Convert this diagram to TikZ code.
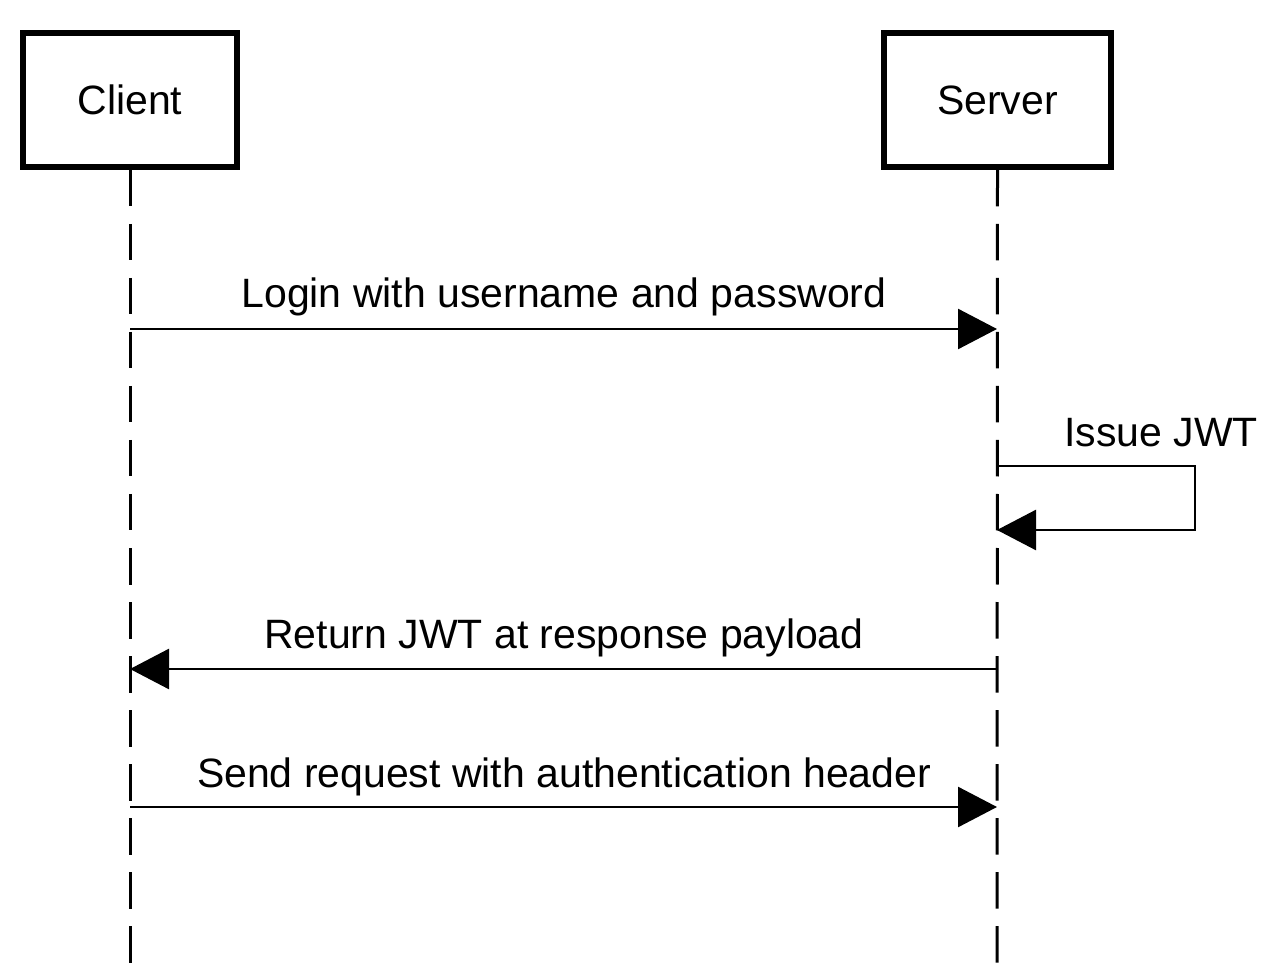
\documentclass[tikz,border=0pt]{standalone}
\usepackage{fontspec}
\setmainfont{Liberation Sans}
\usetikzlibrary{arrows.meta}
\begin{document}
\begin{tikzpicture}[x=0.5pt,y=-0.5pt,
  actor/.style={draw=black, line width=3pt, minimum width=107pt, minimum height=67pt, inner sep=0pt, font=\fontsize{20.5}{24}\selectfont},
  lifeline/.style={draw=black, line width=1.5pt, dash pattern=on 18.25pt off 8.75pt},
  msg/.style={draw=black, line width=1.3pt, -{Triangle[length=19.5pt,width=20pt]}},
  lbl/.style={anchor=base, inner sep=0pt, font=\fontsize{20.5}{24}\selectfont}]
\useasboundingbox (0,0) rectangle (1280,978);
% actors
\node[actor] (client) at (130,100) {Client};
\node[actor, minimum width=113.5pt] (server) at (997.5,100) {Server};
% lifeline ends
\coordinate (cend) at (130,963);
\coordinate (send) at (997,963);
\draw[lifeline] (client.south) -- (cend);
\draw[lifeline] (server.south) -- (send);
% message points
\coordinate (c1) at (130,329);
\coordinate (s1) at (997,329);
\coordinate (s2) at (997,466);
\coordinate (t1) at (1195,466);
\coordinate (t2) at (1195,530);
\coordinate (s3) at (997,530);
\coordinate (s4) at (997,669);
\coordinate (c4) at (130,669);
\coordinate (c5) at (130,807);
\coordinate (s5) at (997,807);
% messages
\draw[msg] (c1) -- (s1);
\node[lbl] (m1) at (564,308) {Login with username and password};
\draw[msg] (s2) -- (t1) -- (t2) -- (s3);
\node[lbl] (m2) at (1161,447) {Issue JWT};
\draw[msg] (s4) -- (c4);
\node[lbl] (m3) at (564,648) {Return JWT at response payload};
\draw[msg] (c5) -- (s5);
\node[lbl] (m4) at (564,787) {Send request with authentication header};
\end{tikzpicture}
\end{document}
